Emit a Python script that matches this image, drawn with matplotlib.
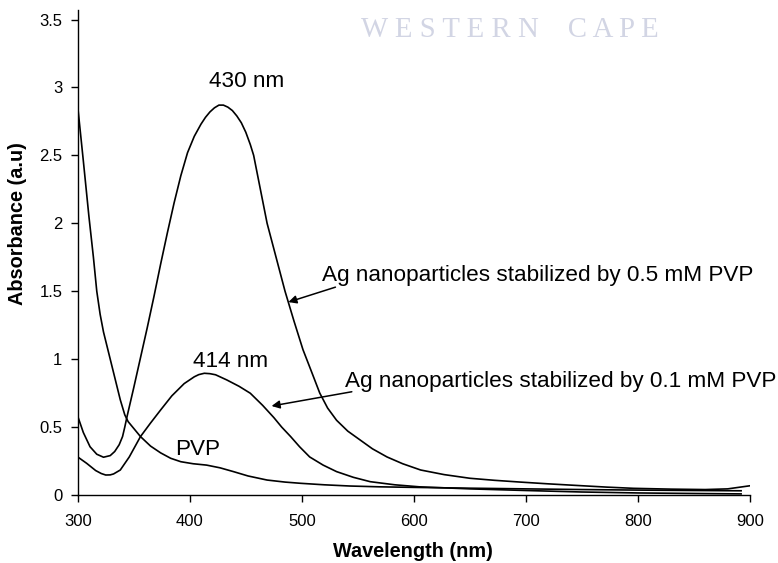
import matplotlib.pyplot as plt

plt.rcParams['font.family'] = ['Liberation Sans', 'DejaVu Sans']

# PVP alone
wl_pvp = [300, 305, 310, 314, 317, 320, 323, 326, 329, 332, 335, 338, 342, 345,
          349, 356, 365, 374, 383, 392, 403, 415, 427, 439, 452, 469, 485, 499,
          520, 543, 570, 600, 650, 700, 750, 800, 850, 892]
abs_pvp = [2.86, 2.46, 2.05, 1.75, 1.50, 1.33, 1.20, 1.10, 1.00, 0.90, 0.80,
           0.70, 0.59, 0.54, 0.50, 0.43, 0.36, 0.31, 0.27, 0.245, 0.23, 0.22,
           0.20, 0.172, 0.14, 0.11, 0.095, 0.086, 0.075, 0.066, 0.060, 0.056,
           0.050, 0.045, 0.040, 0.036, 0.033, 0.031]

# Ag nanoparticles, 0.1 mM PVP
wl_01 = [300, 308, 316, 321, 325, 329, 332, 338, 346, 356, 365, 374, 384, 395,
         404, 408, 413, 418, 423, 433, 444, 454, 465, 475, 482, 490, 498, 507,
         519, 531, 546, 561, 583, 605, 650, 700, 750, 800, 850, 892]
abs_01 = [0.28, 0.233, 0.18, 0.158, 0.147, 0.148, 0.155, 0.184, 0.28, 0.43,
          0.53, 0.626, 0.73, 0.82, 0.87, 0.886, 0.896, 0.893, 0.885, 0.847, 0.80,
          0.749, 0.66, 0.57, 0.50, 0.43, 0.355, 0.28, 0.22, 0.172, 0.13, 0.098,
          0.075, 0.060, 0.045, 0.033, 0.022, 0.015, 0.011, 0.008]

# Ag nanoparticles, 0.5 mM PVP
wl_05 = [300, 305, 311, 317, 323, 329, 333, 337, 340, 342, 344, 350, 356, 362,
         368, 374, 380, 386, 392, 398, 404, 410, 414, 418, 422, 426, 430, 434,
         438, 442, 446, 450, 454, 457, 463, 469, 477, 485, 493, 501, 509, 516,
         523, 531, 541, 552, 563, 576, 590, 606, 627, 650, 672, 695, 720, 748,
         772, 796, 830, 860, 880, 900]
abs_05 = [0.58, 0.46, 0.355, 0.30, 0.278, 0.29, 0.32, 0.37, 0.43, 0.50, 0.577,
          0.79, 1.01, 1.23, 1.46, 1.70, 1.93, 2.15, 2.35, 2.52, 2.64, 2.73, 2.78,
          2.82, 2.85, 2.87, 2.87, 2.855, 2.83, 2.79, 2.74, 2.67, 2.58, 2.50,
          2.25, 2.00, 1.75, 1.50, 1.28, 1.07, 0.90, 0.75, 0.64, 0.55, 0.47,
          0.405, 0.34, 0.28, 0.23, 0.184, 0.15, 0.123, 0.108, 0.095, 0.082,
          0.069, 0.058, 0.049, 0.043, 0.040, 0.045, 0.068]

x_ticks = [300, 400, 500, 600, 700, 800, 900]
y_ticks = [0, 0.5, 1, 1.5, 2, 2.5, 3, 3.5]
y_tick_labels = ['0', '0.5', '1', '1.5', '2', '2.5', '3', '3.5']

fig = plt.figure(figsize=(7.78, 5.63), dpi=100)
ax = fig.add_axes([0.0999, 0.1208, 0.8642, 0.8614])

ax.plot(wl_pvp, abs_pvp, color='black', lw=1.2)
ax.plot(wl_01, abs_01, color='black', lw=1.2)
ax.plot(wl_05, abs_05, color='black', lw=1.2)

ax.set_xlim(300, 900)
ax.set_ylim(0, 3.57)
ax.set_xticks(x_ticks)
ax.set_yticks(y_ticks)
ax.set_yticklabels(y_tick_labels)
ax.tick_params(direction='out', length=5, width=1, labelsize=12, pad=6)
ax.tick_params(axis='x', pad=9)
for side in ['top', 'right']:
    ax.spines[side].set_visible(False)
for side in ['left', 'bottom']:
    ax.spines[side].set_linewidth(1)

ax.set_xlabel('Wavelength (nm)', fontsize=14.3, fontweight='bold')
ax.set_ylabel('Absorbance (a.u)', fontsize=14.3, fontweight='bold')
ax.xaxis.set_label_coords(0.499, -0.096)
ax.yaxis.set_label_coords(-0.076, 0.559)

# peak labels
ax.text(451, 3.0, '430 nm', fontsize=16.2, ha='center', va='baseline')
ax.text(436, 0.945, '414 nm', fontsize=16.2, ha='center', va='baseline')
ax.text(407, 0.295, 'PVP', fontsize=16.2, ha='center', va='baseline')

ax.text(518, 1.576, 'Ag nanoparticles stabilized by 0.5 mM PVP', fontsize=16.2,
        ha='left', va='baseline')
ax.annotate('', xy=(488, 1.42), xytext=(530, 1.53),
            arrowprops=dict(arrowstyle='-|>', color='black', lw=1.1,
                            mutation_scale=12, shrinkA=0, shrinkB=0))
ax.text(538.7, 0.797, 'Ag nanoparticles stabilized by 0.1 mM PVP', fontsize=16.2,
        ha='left', va='baseline')
ax.annotate('', xy=(473, 0.655), xytext=(544.6, 0.76),
            arrowprops=dict(arrowstyle='-|>', color='black', lw=1.1,
                            mutation_scale=12, shrinkA=0, shrinkB=0))

# scanned watermark
fig.text(0.6555, 1 - 37 / 563, 'W E S T E R N    C A P E', fontsize=20.7,
         family=['Liberation Serif', 'DejaVu Serif'], color='#d2d5e4',
         ha='center', va='baseline', zorder=0)

fig.savefig('out.png', dpi=100)
